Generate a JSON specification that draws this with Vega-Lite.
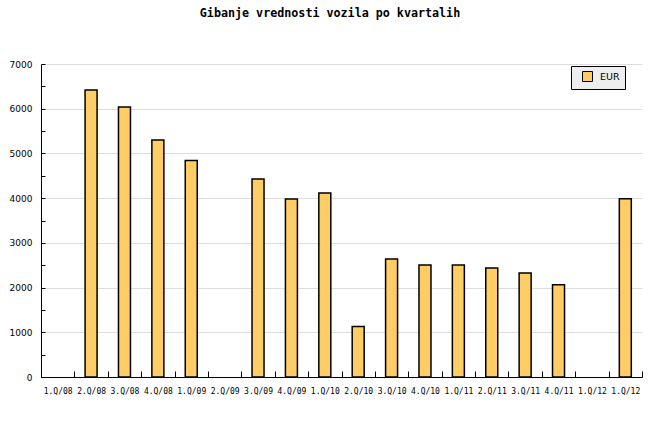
{
  "$schema": "https://vega.github.io/schema/vega-lite/v6.json",
  "width": 601,
  "height": 313,
  "autosize": {"type": "none"},
  "padding": {"left": 41, "top": 64, "right": 18, "bottom": 63},
  "background": "white",
  "title": {
    "text": "Gibanje vrednosti vozila po kvartalih",
    "font": "DejaVu Sans Mono",
    "fontSize": 11.7,
    "fontWeight": "bold",
    "color": "black",
    "anchor": "middle",
    "frame": "group",
    "baseline": "bottom",
    "offset": 29,
    "dx": -11.5
  },
  "data": {
    "values": [
      {"q": "1.Q/08", "v": null, "s": "EUR"},
      {"q": "2.Q/08", "v": 6420, "s": "EUR"},
      {"q": "3.Q/08", "v": 6040, "s": "EUR"},
      {"q": "4.Q/08", "v": 5300, "s": "EUR"},
      {"q": "1.Q/09", "v": 4840, "s": "EUR"},
      {"q": "2.Q/09", "v": null, "s": "EUR"},
      {"q": "3.Q/09", "v": 4430, "s": "EUR"},
      {"q": "4.Q/09", "v": 3980, "s": "EUR"},
      {"q": "1.Q/10", "v": 4115, "s": "EUR"},
      {"q": "2.Q/10", "v": 1130, "s": "EUR"},
      {"q": "3.Q/10", "v": 2640, "s": "EUR"},
      {"q": "4.Q/10", "v": 2505, "s": "EUR"},
      {"q": "1.Q/11", "v": 2505, "s": "EUR"},
      {"q": "2.Q/11", "v": 2438, "s": "EUR"},
      {"q": "3.Q/11", "v": 2326, "s": "EUR"},
      {"q": "4.Q/11", "v": 2064, "s": "EUR"},
      {"q": "1.Q/12", "v": null, "s": "EUR"},
      {"q": "1.Q/12b", "v": 3985, "s": "EUR"}
    ]
  },
  "mark": {"type": "bar", "size": 12, "stroke": "black", "strokeWidth": 1.5},
  "encoding": {
    "x": {
      "field": "q",
      "type": "nominal",
      "sort": null,
      "title": null,
      "scale": {
        "domain": ["1.Q/08", "2.Q/08", "3.Q/08", "4.Q/08", "1.Q/09", "2.Q/09", "3.Q/09", "4.Q/09", "1.Q/10", "2.Q/10", "3.Q/10", "4.Q/10", "1.Q/11", "2.Q/11", "3.Q/11", "4.Q/11", "1.Q/12", "1.Q/12b"],
        "paddingInner": 0,
        "paddingOuter": 0
      },
      "axis": {
        "labelAngle": 0,
        "labelExpr": "replace(datum.label, 'b', '')",
        "labelFont": "DejaVu Sans Mono",
        "labelFontSize": 8,
        "labelColor": "black",
        "tickBand": "extent",
        "tickSize": -6,
        "tickColor": "black",
        "domainColor": "black",
        "labelPadding": 16,
        "grid": false
      }
    },
    "y": {
      "field": "v",
      "type": "quantitative",
      "title": null,
      "scale": {"domain": [0, 7000], "nice": false},
      "axis": {
        "values": [0, 500, 1000, 1500, 2000, 2500, 3000, 3500, 4000, 4500, 5000, 5500, 6000, 6500, 7000],
        "format": "d",
        "labelExpr": "datum.value % 1000 === 0 ? datum.label : ''",
        "labelFont": "DejaVu Sans",
        "labelFontSize": 9,
        "labelColor": "black",
        "tickSize": -4,
        "tickColor": "black",
        "domainColor": "black",
        "labelPadding": 13,
        "grid": true,
        "gridColor": {"condition": {"test": "datum.value % 1000 === 0 && datum.value > 0", "value": "#dddddd"}, "value": "transparent"}
      }
    },
    "color": {
      "field": "s",
      "type": "nominal",
      "title": null,
      "scale": {"range": ["#ffcc66"]},
      "legend": {
        "orient": "none",
        "legendX": 530,
        "legendY": 2,
        "padding": 5,
        "fillColor": "#eeeeee",
        "strokeColor": "black",
        "symbolType": "square",
        "symbolSize": 100,
        "symbolStrokeColor": "black",
        "symbolStrokeWidth": 1,
        "symbolOffset": 6,
        "labelOffset": 7,
        "labelFont": "DejaVu Sans",
        "labelFontSize": 9.5,
        "labelColor": "black"
      }
    }
  },
  "config": {"view": {"stroke": null}}
}
